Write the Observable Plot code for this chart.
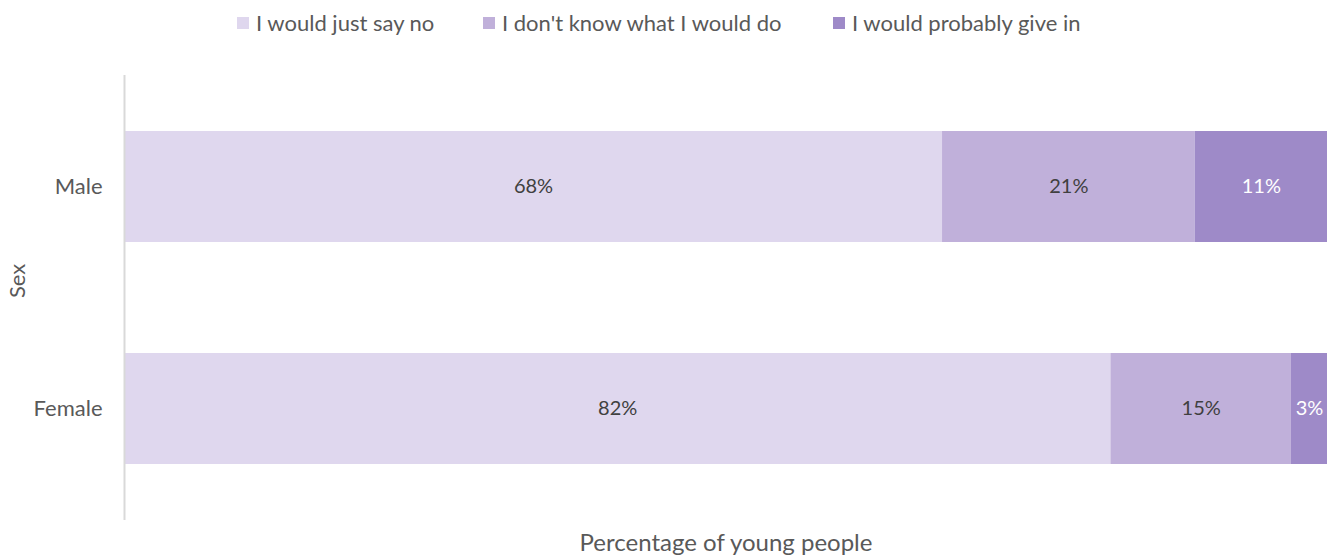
<!DOCTYPE html>
<html><head><meta charset="utf-8">
<script src="https://cdn.jsdelivr.net/npm/d3@7"></script>
<script src="https://cdn.jsdelivr.net/npm/@observablehq/plot@0.6"></script>
<style>
body{margin:0;background:#fff;font-family:Lato,sans-serif;}
#legend{height:50px;position:relative;font-size:22px;color:#595959;}
.item{position:absolute;top:9px;display:flex;align-items:center;white-space:nowrap;}
.sw{width:12px;height:12px;margin-right:7px;}
</style></head><body>
<div id="legend"></div>
<div id="chart"></div>
<script>
const categories = ["Male", "Female"];
const responses = ["I would just say no", "I don't know what I would do", "I would probably give in"];
const maleValues = [68, 21, 11];
const femaleValues = [82, 15, 3];
const colors = ["#DFD7EE", "#C0B0DA", "#9E8AC8"];
const labelColors = ["#404040", "#404040", "#ffffff"];

const seriesValues = [maleValues, femaleValues];
const data = [];
categories.forEach((c, i) => responses.forEach((r, j) => data.push({sex: c, response: r, value: seriesValues[i][j], ri: j})));

const legendX = [237, 483, 833];
const leg = document.getElementById("legend");
responses.forEach((r, j) => {
  const d = document.createElement("div");
  d.className = "item";
  d.style.left = legendX[j] + "px";
  d.innerHTML = `<span class="sw" style="background:${colors[j]}"></span><span>${r}</span>`;
  leg.appendChild(d);
});

const plot = Plot.plot({
  width: 1336,
  height: 507,
  marginLeft: 124,
  marginRight: 9,
  marginTop: 25,
  marginBottom: 37,
  style: {fontFamily: "Lato, sans-serif", fontSize: "22px", color: "#595959", background: "#fff"},
  x: {domain: [0, 100], axis: null},
  y: {domain: categories, paddingInner: 0.5, paddingOuter: 0.25, axis: null},
  color: {domain: responses, range: colors},
  marks: [
    Plot.barX(data, Plot.stackX({x: "value", y: "sex", fill: "response"})),
    Plot.text(data, Plot.stackX({x: "value", y: "sex", text: d => d.value + "%", fill: d => labelColors[d.ri], fontSize: 20})),
    Plot.ruleX([0], {stroke: "#d9d9d9", strokeWidth: 2}),
    Plot.axisY({tickSize: 0, tickPadding: 22, label: null, fontSize: 22, color: "#595959"}),
    Plot.text(["Sex"], {frameAnchor: "left", dx: -107, rotate: -90, fontSize: 22, fill: "#595959"}),
    Plot.text(["Percentage of young people"], {frameAnchor: "bottom", dy: 23, fontSize: 24, fill: "#595959", lineAnchor: "middle"})
  ]
});
document.getElementById("chart").appendChild(plot);
</script>
</body></html>
